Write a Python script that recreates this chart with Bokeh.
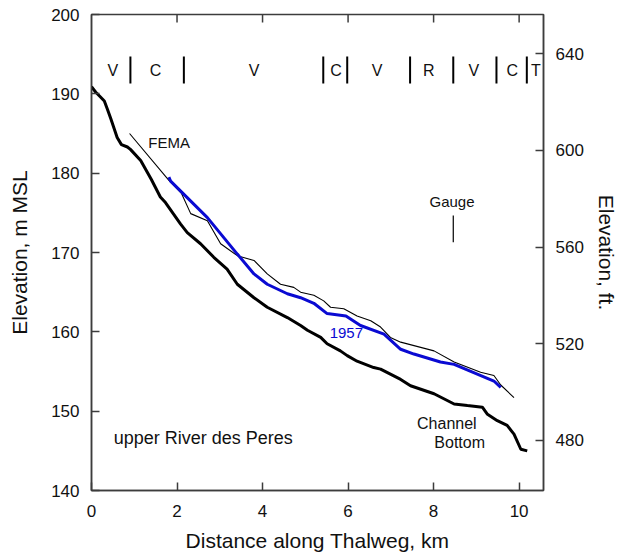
from bokeh.plotting import figure
from bokeh.models import LinearAxis, Range1d, FixedTicker
from bokeh.core.properties import value
from bokeh.embed import file_html
from bokeh.resources import INLINE

M_TO_FT = 3.28084

# Channel bottom (thalweg) profile, km vs m MSL
channel_km = [0.00, 0.10, 0.21, 0.30, 0.37, 0.45, 0.60, 0.70, 0.84, 0.91, 1.15, 1.40, 1.61, 1.73,
              2.08, 2.24, 2.55, 2.86, 3.17, 3.41, 3.80, 4.11, 4.58, 4.89, 5.05, 5.36, 5.51,
              5.82, 5.98, 6.21, 6.60, 6.76, 7.23, 7.46, 8.01, 8.48, 8.79, 9.14, 9.26, 9.49,
              9.72, 9.88, 10.04, 10.19]
channel_m = [190.9, 190.2, 189.6, 189.1, 188.1, 186.9, 184.5, 183.6, 183.3, 183.0, 181.6, 179.2,
             177.0, 176.3, 173.6, 172.5, 171.1, 169.4, 167.9, 166.0, 164.3, 163.1, 161.8, 160.8,
             160.2, 159.3, 158.5, 157.6, 157.0, 156.3, 155.5, 155.3, 154.0, 153.2, 152.2, 150.9,
             150.7, 150.5, 149.6, 148.8, 148.2, 147.1, 145.2, 145.0]

# FEMA profile
fema_km = [0.89, 1.81, 2.10, 2.32, 2.71, 3.02, 3.41, 3.80, 4.11, 4.42, 4.73, 4.89, 5.20, 5.43,
           5.59, 5.90, 6.21, 6.53, 6.76, 6.99, 7.23, 8.01, 8.48, 9.10, 9.41, 9.57, 9.88]
fema_m = [185.0, 179.1, 177.5, 174.9, 174.0, 171.1, 169.6, 169.0, 167.3, 166.0, 165.6, 165.0,
          164.6, 163.9, 163.1, 162.9, 162.0, 161.4, 160.6, 159.3, 158.7, 157.6, 156.2, 154.9,
          154.5, 153.3, 151.7]

# 1957 profile
y1957_km = [1.81, 1.85, 2.71, 3.41, 3.80, 4.11, 4.58, 4.89, 5.20, 5.51, 5.95, 6.29, 6.84, 7.23,
            7.54, 8.16, 8.48, 9.41, 9.57]
y1957_m = [179.5, 179.0, 174.4, 169.8, 167.3, 166.0, 164.8, 164.3, 163.6, 162.3, 162.0, 160.8,
           159.7, 157.8, 157.2, 156.2, 155.9, 153.8, 153.0]

# Reach classification along the top
reach_bounds_km = [0.91, 2.16, 5.42, 5.98, 7.45, 8.46, 9.47, 10.18]
reach_labels = ["V", "C", "V", "C", "V", "R", "V", "C", "T"]
reach_label_km = [0.50, 1.50, 3.80, 5.72, 6.68, 7.89, 8.94, 9.84, 10.39]

gauge_km = 8.46

x_ticks = [0, 2, 4, 6, 8, 10]
top_ticks = [2, 4, 6, 8, 10]
y_ticks = [140, 150, 160, 170, 180, 190, 200]
ft_ticks = [480, 520, 560, 600, 640]

Y_MIN, Y_MAX = 140, 200

FONT = "Liberation Sans"
AX = "#3c3c3c"

p = figure(width=620, height=554, x_range=Range1d(0, 10.57), y_range=Range1d(Y_MIN, Y_MAX),
           output_backend="svg", toolbar_location=None,
           min_border_left=91, min_border_right=77, min_border_top=14, min_border_bottom=64)
p.extra_y_ranges = {"ft": Range1d(Y_MIN * M_TO_FT, Y_MAX * M_TO_FT)}
p.grid.visible = False
p.outline_line_color = AX
p.outline_line_width = 1.5
p.background_fill_color = "white"
p.border_fill_color = "white"


def style_axis(ax, ticks):
    ax.ticker = FixedTicker(ticks=ticks)
    ax.axis_line_color = AX
    ax.axis_line_width = 1.5
    ax.major_tick_line_color = AX
    ax.major_tick_line_width = 1.5
    ax.major_tick_in = 8
    ax.major_tick_out = 0
    ax.minor_tick_line_color = None
    ax.major_label_text_font = FONT
    ax.major_label_text_font_size = "17px"
    ax.major_label_text_color = "#111111"
    ax.axis_label_text_font = FONT
    ax.axis_label_text_font_size = "21px"
    ax.axis_label_text_font_style = "normal"
    ax.axis_label_text_color = "#111111"


xa = p.xaxis[0]
style_axis(xa, x_ticks)
xa.axis_label = "Distance along Thalweg, km"
xa.major_label_standoff = 14
xa.axis_label_standoff = 9

ya = p.yaxis[0]
style_axis(ya, y_ticks)
ya.axis_label = "Elevation, m MSL"
ya.major_label_standoff = 12
ya.axis_label_standoff = 17

ra = LinearAxis(y_range_name="ft")
style_axis(ra, ft_ticks)
ra.axis_label = "Elevation, ft."
ra.major_label_standoff = 12
ra.axis_label_standoff = 8
p.add_layout(ra, "right")

# inward tick marks on the top edge of the frame (about 8 px long)
p.segment(x0=top_ticks, y0=[Y_MAX] * len(top_ticks), x1=top_ticks,
          y1=[Y_MAX - 1.0] * len(top_ticks), line_color=AX, line_width=1.5)

# profiles
p.line(fema_km, fema_m, line_color="black", line_width=1.1)
p.line(channel_km, channel_m, line_color="black", line_width=3)
p.line(y1957_km, y1957_m, line_color="#0a0ad2", line_width=3)

# reach boundaries and labels
p.segment(x0=reach_bounds_km, y0=[191.3] * len(reach_bounds_km),
          x1=reach_bounds_km, y1=[194.7] * len(reach_bounds_km),
          line_color="black", line_width=2)
p.text(x=reach_label_km, y=[192.9] * len(reach_label_km), text=reach_labels,
       text_font=value(FONT), text_font_size="16px", text_align="center",
       text_baseline="middle", text_color="#111111")

# gauge marker
p.segment(x0=[gauge_km], y0=[171.3], x1=[gauge_km], y1=[174.65], line_color="black", line_width=1.2)
p.text(x=[8.43], y=[176.4], text=["Gauge"], text_font=value(FONT), text_font_size="15px",
       text_align="center", text_baseline="middle", text_color="#111111")

# annotations
p.text(x=[1.33], y=[183.9], text=["FEMA"], text_font=value(FONT), text_font_size="15px",
       text_align="left", text_baseline="middle", text_color="#111111")
p.text(x=[5.96], y=[159.8], text=["1957"], text_font=value(FONT), text_font_size="15px",
       text_align="center", text_baseline="middle", text_color="#0a0ad2")
p.text(x=[0.52], y=[146.6], text=["upper River des Peres"], text_font=value(FONT),
       text_font_size="18px", text_align="left", text_baseline="middle", text_color="#111111")
p.text(x=[8.31, 8.61], y=[148.4, 146.1], text=["Channel", "Bottom"], text_font=value(FONT),
       text_font_size="16px", text_align="center", text_baseline="middle", text_color="#111111")

open("out.html", "w").write(file_html(p, INLINE))
